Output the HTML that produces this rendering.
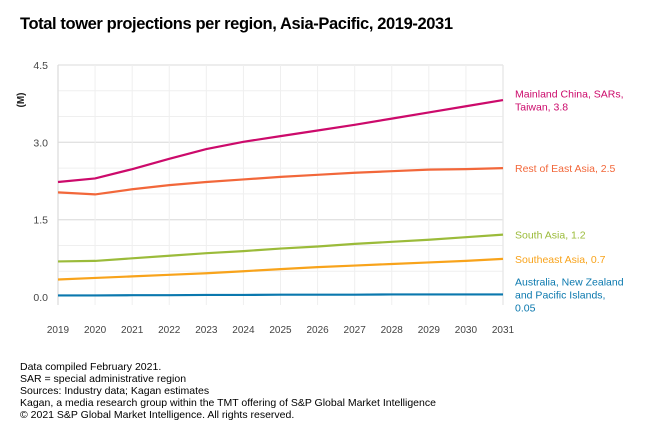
<!DOCTYPE html>
<html><head><meta charset="utf-8"><style>
body{margin:0;background:#fff;width:651px;height:436px;overflow:hidden;font-family:"Liberation Sans",sans-serif}
svg{display:block}
</style></head><body>
<svg id="chart" width="651" height="436">
<text x="20" y="29" font-size="16.5" font-weight="bold" fill="#000" textLength="433">Total tower projections per region, Asia-Pacific, 2019-2031</text>
<text transform="translate(24,100) rotate(-90)" text-anchor="middle" font-size="10" font-weight="bold" fill="#222">(M)</text>
<g id="grid"></g><g id="axes"></g><g id="series"></g><g id="labels"></g>
<g font-size="10.5" fill="#000">
<text x="20" y="370">Data compiled February 2021.</text>
<text x="20" y="382">SAR = special administrative region</text>
<text x="20" y="394">Sources: Industry data; Kagan estimates</text>
<text x="20" y="406">Kagan, a media research group within the TMT offering of S&amp;P Global Market Intelligence</text>
<text x="20" y="418">© 2021 S&amp;P Global Market Intelligence. All rights reserved.</text>
</g>
</svg>
<script>
const years=[2019,2020,2021,2022,2023,2024,2025,2026,2027,2028,2029,2030,2031];
const yTicks=[0,1.5,3,4.5];
const yTickLabels=["0.0","1.5","3.0","4.5"];
const china=[2.23,2.30,2.48,2.68,2.87,3.01,3.12,3.23,3.34,3.46,3.58,3.70,3.82];
const restEast=[2.03,1.99,2.09,2.17,2.23,2.28,2.33,2.37,2.41,2.44,2.47,2.48,2.50];
const southAsia=[0.69,0.70,0.75,0.80,0.85,0.89,0.94,0.98,1.03,1.07,1.11,1.16,1.21];
const seAsia=[0.34,0.37,0.40,0.43,0.46,0.50,0.54,0.58,0.61,0.64,0.67,0.70,0.74];
const aus=[0.03,0.03,0.035,0.035,0.04,0.04,0.045,0.045,0.045,0.05,0.05,0.05,0.05];
const seriesNames=["china","rest-of-east-asia","south-asia","southeast-asia","australia-nz-pacific"];
const seriesLabels=[["Mainland China, SARs,","Taiwan, 3.8"],["Rest of East Asia, 2.5"],["South Asia, 1.2"],["Southeast Asia, 0.7"],["Australia, New Zealand","and Pacific Islands,","0.05"]];
const colors=["#cc0a6b","#f2673a","#9bbb3a","#f8a31b","#0a78ae"];
const allSeries=[china,restEast,southAsia,seAsia,aus];
const NS="http://www.w3.org/2000/svg";
const X0=58,X1=503,Y0=297,Y1=65,YMAX=4.5;
const xs=i=>X0+(X1-X0)*i/(years.length-1);
const ys=v=>Y0-(Y0-Y1)*v/YMAX;
function mk(tag,attrs,parent){const e=document.createElementNS(NS,tag);for(const k in attrs)e.setAttribute(k,attrs[k]);parent.appendChild(e);return e;}
const grid=document.getElementById('grid'),axes=document.getElementById('axes'),ser=document.getElementById('series'),lab=document.getElementById('labels');
for(let v=0.5;v<=YMAX+0.01;v+=0.5){
 const major=Math.abs(v/1.5-Math.round(v/1.5))<0.01;
 const l=mk('line',{x1:X0,x2:X1,y1:ys(v),y2:ys(v),stroke:major?'#e2e2e2':'#efefef','stroke-width':major?1.3:1},grid);
 
 
}
years.forEach((y,i)=>{
 const l=mk('line',{x1:xs(i),x2:xs(i),y1:Y1,y2:305,stroke:'#efefef','stroke-width':1},grid);
 
 
 const t=mk('text',{x:xs(i),y:333,'text-anchor':'middle','font-size':'10',fill:'#444'},axes);
 t.textContent=y;
 
 
});
const ax=mk('line',{x1:X0,x2:X0,y1:Y1,y2:305,stroke:'#ddd','stroke-width':1.3},axes);


const rx=mk('line',{x1:X1,x2:X1,y1:Y1,y2:305,stroke:'#e6e6e6','stroke-width':1.3},axes);


yTicks.forEach((v,i)=>{
 const t=mk('text',{x:48,y:ys(v)+4,'text-anchor':'end','font-size':'10.5',fill:'#444'},axes);
 t.textContent=yTickLabels[i];
 
 
});
allSeries.forEach((s,k)=>{
 const p=mk('polyline',{points:s.map((v,i)=>xs(i)+','+ys(v)).join(' '),fill:'none',stroke:colors[k],'stroke-width':2.2},ser);
 
 
 const last=s[s.length-1];
 const lines=seriesLabels[k];
 let y0=ys(last)-(lines.length-1)*13/2+4;
 if(k===4) y0=ys(last)-9;
 const t=mk('text',{x:515,y:y0,'font-size':'10.5',fill:colors[k]},lab);
 
 
 lines.forEach((ln,j)=>{const ts=mk('tspan',{x:515,dy:j?13:0},t);ts.textContent=ln;});
});
</script>
</body></html>
